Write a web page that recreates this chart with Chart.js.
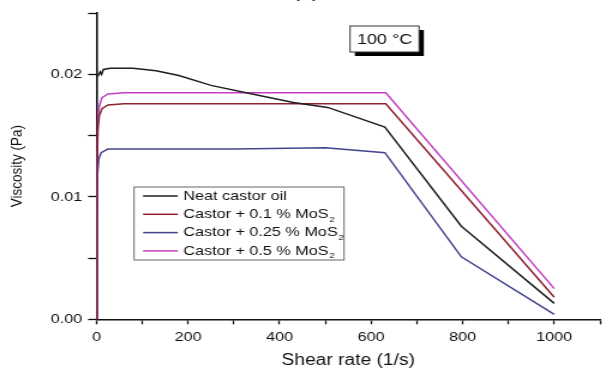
<!DOCTYPE html>
<html>
<head>
<meta charset="utf-8">
<script src="https://cdn.jsdelivr.net/npm/chart.js@4/dist/chart.umd.min.js"></script>
<style>
  html, body { margin: 0; padding: 0; background: #fff; overflow: hidden; }
  /* the source figure is stretched horizontally, so the canvas is too */
  #wrap { width: 505px; height: 372px; transform: scaleX(1.2); transform-origin: 0 0; }
</style>
</head>
<body>
<div id="wrap"><canvas id="chart" width="505" height="372"></canvas></div>
<script>
// Viscosity vs shear rate at 100 °C

const FONT = "'Liberation Sans', Arial, sans-serif";

const seriesNames = [
    'Neat castor oil',
    'Castor + 0.1 % MoS₂',
    'Castor + 0.25 % MoS₂',
    'Castor + 0.5 % MoS₂',
];
const seriesColors = ['#1f1f1f', '#8e2230', '#43438f', '#c23fc6'];

// shear rate (1/s) and viscosity (Pa) for each sample
const neatX = [0, 4, 8, 11, 15, 30, 80, 130, 180, 250, 340, 430, 505, 630, 797, 1000];
const neatY = [0.0198, 0.0199, 0.0202, 0.0200, 0.0204, 0.0205, 0.0205, 0.0203, 0.0199, 0.0191, 0.0184, 0.0177, 0.0173, 0.0157, 0.0076, 0.0013];

const mos01X = [0, 1, 3, 6, 12, 25, 60, 632, 1000];
const mos01Y = [0, 0.0120, 0.0155, 0.0166, 0.0172, 0.0175, 0.0176, 0.0176, 0.0018];

const mos025X = [0, 0.5, 2, 5, 10, 25, 100, 300, 500, 630, 797, 1000];
const mos025Y = [0, 0.0080, 0.0118, 0.0131, 0.0136, 0.0139, 0.0139, 0.0139, 0.0140, 0.0136, 0.0051, 0.0004];

const mos05X = [0, 1, 3, 6, 12, 25, 60, 632, 1000];
const mos05Y = [0, 0.0125, 0.0162, 0.0174, 0.0181, 0.0184, 0.0185, 0.0185, 0.0025];

const xTickLabels = [0, 200, 400, 600, 800, 1000];
const yTickLabels = [0, 0.01, 0.02];

const toPoints = (xs, ys) => xs.map((x, i) => ({ x, y: ys[i] }));
const allSeries = [
    toPoints(neatX, neatY),
    toPoints(mos01X, mos01Y),
    toPoints(mos025X, mos025Y),
    toPoints(mos05X, mos05Y),
];

// text with a "₂" drawn as a real lowered small 2
function drawSubText(ctx, text, x, y, size) {
    const parts = text.split('₂');
    ctx.font = `${size}px ${FONT}`;
    ctx.fillText(parts[0], x, y);
    if (parts.length > 1) {
        const w = ctx.measureText(parts[0]).width;
        ctx.font = `${Math.round(size * 0.62)}px ${FONT}`;
        ctx.fillText('2', x + w + 0.5, y + 5);
    }
}

const extras = {
    id: 'extras',
    afterDraw(chart) {
        const ctx = chart.ctx;
        ctx.save();
        ctx.fillStyle = '#111';
        ctx.textBaseline = 'middle';

        // panel label, mostly cut off at the top
        ctx.font = `20px ${FONT}`;
        ctx.textAlign = 'center';
        ctx.fillText('(c)', 255, -9);

        // temperature box with drop shadow
        const bx = 291.7, by = 26, bw = 57.5, bh = 26;
        ctx.fillStyle = '#000';
        ctx.fillRect(bx + 4, by + 4, bw, bh);
        ctx.fillStyle = '#fff';
        ctx.fillRect(bx, by, bw, bh);
        ctx.strokeStyle = '#333';
        ctx.lineWidth = 1;
        ctx.strokeRect(bx, by, bw, bh);
        ctx.fillStyle = '#111';
        ctx.font = `15px ${FONT}`;
        ctx.fillText('100 °C', bx + bw / 2, by + bh / 2 + 1);

        // legend
        const lx = 111.7, ly = 187, lw = 175, lh = 73;
        ctx.fillStyle = '#fff';
        ctx.fillRect(lx, ly, lw, lh);
        ctx.strokeStyle = '#666';
        ctx.strokeRect(lx, ly, lw, lh);
        ctx.textAlign = 'left';
        seriesNames.forEach((name, i) => {
            const rowY = ly + 9 + i * 18.3;
            ctx.strokeStyle = seriesColors[i];
            ctx.lineWidth = 1.5;
            ctx.beginPath();
            ctx.moveTo(lx + 7.5, rowY);
            ctx.lineTo(lx + 36.5, rowY);
            ctx.stroke();
            ctx.fillStyle = '#111';
            drawSubText(ctx, name, lx + 41, rowY, 13.5);
        });
        ctx.restore();
    },
};

new Chart(document.getElementById('chart').getContext('2d'), {
    type: 'line',
    data: {
        datasets: allSeries.map((pts, i) => ({
            label: seriesNames[i],
            data: pts,
            borderColor: seriesColors[i],
            borderWidth: 1.5,
            pointRadius: 0,
            tension: 0,
            fill: false,
        })),
    },
    options: {
        responsive: false,
        animation: false,
        events: [],
        layout: {
            autoPadding: false,
            padding: { top: 6, right: 1.5, bottom: 0, left: 0 },
        },
        plugins: {
            legend: { display: false },
            tooltip: { enabled: false },
        },
        scales: {
            x: {
                type: 'linear',
                min: 0,
                max: 1100,
                afterFit: (s) => { s.height = 52.7; },
                border: { display: true, color: '#111', width: 1.5 },
                grid: { drawOnChartArea: false, drawTicks: true, tickLength: 5, color: '#111', tickWidth: 1.3 },
                ticks: {
                    stepSize: 100,
                    padding: 5,
                    maxRotation: 0,
                    autoSkip: false,
                    color: '#111',
                    font: { family: FONT, size: 13.5 },
                    callback: (v) => (xTickLabels.includes(v) ? String(v) : ''),
                },
                title: {
                    display: true,
                    text: 'Shear rate (1/s)',
                    color: '#111',
                    font: { family: FONT, size: 16 },
                    padding: { top: 0, bottom: 2 },
                },
            },
            y: {
                min: 0,
                max: 0.025,
                afterFit: (s) => { s.width = 80.4; },
                border: { display: true, color: '#111', width: 1.6 },
                grid: { drawOnChartArea: false, drawTicks: true, tickLength: 7, color: '#111', tickWidth: 1.3 },
                ticks: {
                    stepSize: 0.005,
                    padding: 5,
                    color: '#111',
                    font: { family: FONT, size: 13.5 },
                    callback: (v) => {
                        const r = Math.round(v * 1000) / 1000;
                        return yTickLabels.includes(r) ? r.toFixed(2) : '';
                    },
                },
                title: {
                    display: true,
                    text: 'Viscosity (Pa)',
                    color: '#111',
                    font: { family: FONT, size: 13.5 },
                    padding: { top: 6, bottom: 0 },
                },
            },
        },
    },
    plugins: [extras],
});
</script>
</body>
</html>
